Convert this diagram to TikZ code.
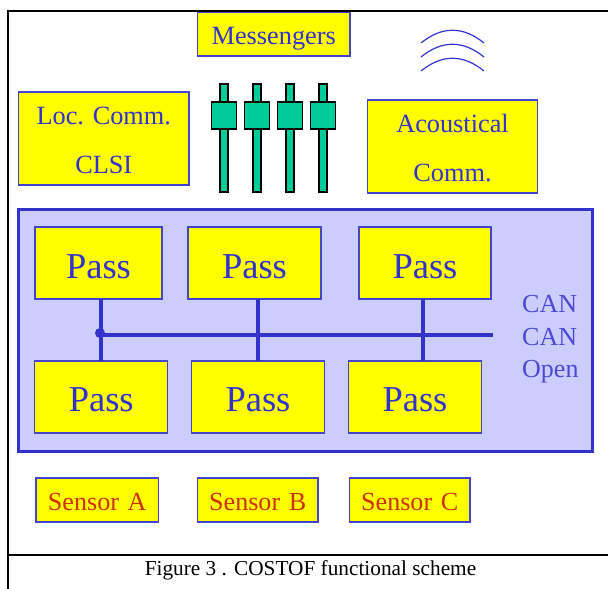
\documentclass[tikz,border=0pt]{standalone}
\usepackage{fontspec}
\setmainfont{Liberation Serif}
\definecolor{bluetxt}{HTML}{3333CC}
\definecolor{boxline}{HTML}{4444CC}
\definecolor{lilac}{HTML}{CCCCFF}
\definecolor{sliderg}{HTML}{00CC99}
\definecolor{sensred}{HTML}{CC3300}
\definecolor{boxyellow}{HTML}{FFFF00}
\tikzset{
  x=1pt,y=-1pt,
  ybox/.style={draw=boxline,line width=1.2pt,fill=boxyellow,inner sep=0pt,outer sep=0pt,anchor=base,align=center,text=bluetxt},
  bigtext/.style={font=\frenchspacing\fontsize{26.3}{49}\selectfont},
  passbox/.style={ybox,font=\fontsize{36.5}{40}\selectfont},
  sensorbox/.style={ybox,text=sensred,font=\fontsize{26.1}{30}\selectfont,text width=#1,text height=32pt,text depth=12pt},
  toppass/.style={passbox,text width=#1,text height=51pt,text depth=21pt},
  lowpass/.style={passbox,text width=#1,text height=50.5pt,text depth=21.5pt},
  track/.style={draw=black,fill=sliderg,line width=1.7pt,minimum width=8pt,minimum height=108pt,inner sep=0pt,outer sep=0pt},
  knob/.style={draw=black,fill=sliderg,line width=1.7pt,minimum width=25pt,minimum height=27pt,inner sep=0pt,outer sep=0pt},
  busline/.style={draw=bluetxt,line width=3.6pt},
  waveline/.style={draw=bluetxt,line width=1.2pt},
  frameline/.style={draw=black,line width=1.8pt},
  canlabel/.style={anchor=base west,inner sep=0pt,text=bluetxt!85!lilac,font=\fontsize{26}{30}\selectfont},
}
\begin{document}
\begin{tikzpicture}
\useasboundingbox (0,0) rectangle (608,589);
% frame
\coordinate (ftl) at (8,11);
\coordinate (ftr) at (608,11);
\coordinate (fbl) at (8,589);
\coordinate (fml) at (8,555);
\coordinate (fmr) at (608,555);
\draw[frameline] (ftr) -- (ftl) -- (fbl);
\draw[frameline] (fml) -- (fmr);
% CAN panel
\node[draw=bluetxt,fill=lilac,line width=3pt,minimum width=574pt,minimum height=242pt,inner sep=0pt,outer sep=0pt] (panel) at (305,330) {};
% top boxes
\node[ybox,bigtext,text width=152.5pt,text height=31.5pt,text depth=12pt] (mess) at (273.75,44) {Messengers};
\node[ybox,bigtext,text width=170.5pt,text height=32pt,text depth=61pt] (loc) at (103.75,124) {Loc. Comm.\\CLSI};
\node[ybox,bigtext,text width=170pt,text height=32pt,text depth=61pt] (acou) at (452.5,132) {Acoustical\\Comm.};
% sliders
\foreach \i/\xx in {1/224,2/257,3/290,4/323}{
  \node[track] (track\i) at (\xx,138) {};
  \node[knob] (knob\i) at (\xx,115.5) {};
}
% waves
\foreach \yy in {43,57,71}{
  \draw[waveline] (421,\yy) .. controls (442,\yy-17) and (463,\yy-17) .. (484,\yy);
}
% pass boxes
\node[toppass=127pt] (p1) at (98.5,278) {Pass};
\node[toppass=133pt] (p2) at (254.5,278) {Pass};
\node[toppass=132pt] (p3) at (425,278) {Pass};
\node[lowpass=133pt] (p4) at (101.25,411.5) {Pass};
\node[lowpass=132.5pt] (p5) at (258,411.5) {Pass};
\node[lowpass=132.5pt] (p6) at (415,411.5) {Pass};
% bus
\node[circle,fill=bluetxt,minimum size=10pt,inner sep=0pt] (dot) at (100,333) {};
\coordinate (busr) at (493,335);
\draw[busline] (p4.north |- p1.south) -- (p4.north);
\draw[busline] (p5.north |- p2.south) -- (p5.north);
\draw[busline] ([xshift=-2pt]p3.south) -- ([xshift=-2pt]p3.south |- p6.north);
\draw[busline] (dot.center |- busr) -- (busr);
% CAN labels
\node[canlabel] (can1) at (522,312) {CAN};
\node[canlabel] (can2) at (522,345) {CAN};
\node[canlabel] (open) at (522,377) {Open};
% sensors
\node[sensorbox=122.5pt] (sa) at (97.25,510) {Sensor A};
\node[sensorbox=120.5pt] (sb) at (257.75,510) {Sensor B};
\node[sensorbox=120.5pt] (sc) at (409.75,510) {Sensor C};
% caption
\node[anchor=base,inner sep=0pt,text=black,font=\fontsize{21.3}{24}\selectfont] (cap) at (310.5,575) {Figure 3 . COSTOF functional scheme};
\end{tikzpicture}
\end{document}
